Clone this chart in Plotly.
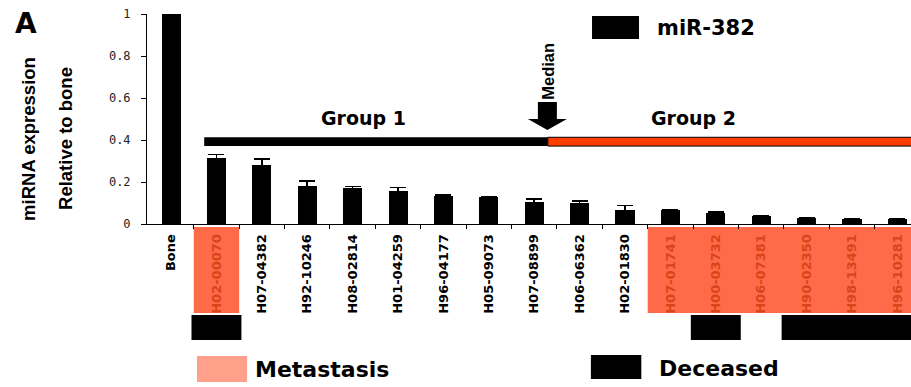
import plotly.graph_objects as go

# Samples ordered by miR-382 expression, relative to bone
samples = ["Bone", "H02-00070", "H07-04382", "H92-10246", "H08-02814", "H01-04259",
           "H96-04177", "H05-09073", "H07-08899", "H06-06362", "H02-01830",
           "H07-01741", "H00-03732", "H06-07381", "H90-02350", "H98-13491", "H96-10281"]
expression = [1.0, 0.314, 0.281, 0.181, 0.173, 0.159, 0.135, 0.127, 0.103, 0.098,
              0.068, 0.065, 0.054, 0.038, 0.030, 0.025, 0.024]
expression_err = [0, 0.018, 0.029, 0.024, 0.005, 0.014, 0.003, 0.002, 0.017, 0.012,
                  0.021, 0.003, 0.003, 0.002, 0.002, 0.001, 0.002]
metastasis = [0, 1, 0, 0, 0, 0, 0, 0, 0, 0, 0, 1, 1, 1, 1, 1, 1]
deceased = [0, 1, 0, 0, 0, 0, 0, 0, 0, 0, 0, 0, 1, 0, 1, 1, 1]
y_ticks = [0, 0.2, 0.4, 0.6, 0.8, 1]
y_tick_text = ["0", "0.2", "0.4", "0.6", "0.8", "1"]
median_pos = 8.3
group1_start = 0.73
group_level = 0.392

META_BOX = "#ff6b48"
META_TEXT = "#d9441a"
META_LEGEND = "#ffa08a"
GROUP2 = "#ff3d00"
SANS = "Liberation Sans"

idx = list(range(len(samples)))
tick_text = [f"<span style='color:{META_TEXT}'>{s}</span>" if m else s
             for s, m in zip(samples, metastasis)]


def runs(flags):
    out, start = [], None
    for i, f in enumerate(flags + [0]):
        if f and start is None:
            start = i
        elif not f and start is not None:
            out.append((start, i - 1))
            start = None
    return out


fig = go.Figure()
fig.add_trace(go.Bar(
    x=idx, y=expression, width=0.42, marker=dict(color="black", line=dict(width=0)),
    error_y=dict(type="data", array=expression_err, color="black", thickness=1.5, width=8),
    showlegend=False,
))

shapes = []
# metastasis highlight behind sample labels
for a, b in runs(metastasis):
    shapes.append(dict(type="rect", xref="x", yref="paper", x0=a - 0.5, x1=b + 0.5,
                       y0=-0.0143, y1=-0.424, fillcolor=META_BOX, line=dict(width=0),
                       layer="below"))
# deceased markers below the labels
for a, b in runs(deceased):
    shapes.append(dict(type="rect", xref="x", yref="paper", x0=a - 0.55, x1=b + 0.55,
                       y0=-0.433, y1=-0.552, fillcolor="black", line=dict(width=0)))
# group bars split at the median
shapes.append(dict(type="rect", xref="x", yref="y", x0=group1_start, x1=median_pos,
                   y0=group_level - 0.021, y1=group_level + 0.021,
                   fillcolor="black", line=dict(width=0)))
shapes.append(dict(type="rect", xref="x", yref="y", x0=median_pos, x1=len(samples),
                   y0=group_level - 0.021, y1=group_level + 0.021,
                   fillcolor=GROUP2, line=dict(color="black", width=1)))
# median arrow
shapes.append(dict(type="path", xref="x", yref="y", xsizemode="pixel", ysizemode="pixel",
                   xanchor=median_pos - 0.01, yanchor=group_level + 0.056,
                   path="M 0,0 L -19.5,11 L -9.5,11 L -9.5,28 L 9.5,28 L 9.5,11 L 19.5,11 Z",
                   fillcolor="black", line=dict(width=0)))
# legend swatches
shapes.append(dict(type="rect", xref="paper", yref="paper", x0=0.5825, x1=0.644,
                   y0=0.881, y1=0.990, fillcolor="black", line=dict(width=0)))
shapes.append(dict(type="rect", xref="paper", yref="paper", x0=0.0654, x1=0.131,
                   y0=-0.629, y1=-0.752, fillcolor=META_LEGEND, line=dict(width=0)))
shapes.append(dict(type="rect", xref="paper", yref="paper", x0=0.581, x1=0.647,
                   y0=-0.624, y1=-0.738, fillcolor="black", line=dict(width=0)))

bold = dict(family="DejaVu Sans", weight="bold", color="black")
annotations = [
    dict(text="A", xref="paper", yref="paper", x=-0.158, y=0.957, showarrow=False,
         font=dict(bold, size=28), xanchor="center", yanchor="middle"),
    dict(text="miRNA expression", xref="paper", yref="paper", x=-0.1545, y=0.405,
         textangle=-90, showarrow=False, xanchor="center", yanchor="middle",
         font=dict(family=SANS, weight="bold", size=18.5, color="black")),
    dict(text="Relative to bone", xref="paper", yref="paper", x=-0.106, y=0.405,
         textangle=-90, showarrow=False, xanchor="center", yanchor="middle",
         font=dict(family=SANS, weight="bold", size=18.5, color="black")),
    dict(text="Median", xref="x", yref="y", x=median_pos, y=0.729, textangle=-90,
         showarrow=False, xanchor="center", yanchor="middle",
         font=dict(family=SANS, weight="bold", size=16.5, color="black")),
    dict(text="Group 1", xref="x", yref="y", x=4.23, y=0.505, showarrow=False,
         xanchor="center", yanchor="middle", font=dict(bold, size=19)),
    dict(text="Group 2", xref="x", yref="y", x=11.5, y=0.505, showarrow=False,
         xanchor="center", yanchor="middle", font=dict(bold, size=19)),
    dict(text="miR-382", xref="paper", yref="paper", x=0.665, y=0.933, showarrow=False,
         xanchor="left", yanchor="middle", font=dict(bold, size=21)),
    dict(text="Metastasis", xref="paper", yref="paper", x=0.1387, y=-0.695, showarrow=False,
         xanchor="left", yanchor="middle", font=dict(bold, size=22)),
    dict(text="Deceased", xref="paper", yref="paper", x=0.6675, y=-0.686, showarrow=False,
         xanchor="left", yanchor="middle", font=dict(bold, size=22)),
]

fig.update_layout(
    width=911, height=387,
    margin=dict(l=147, r=0, t=14, b=163),
    paper_bgcolor="white", plot_bgcolor="white",
    shapes=shapes, annotations=annotations,
    bargap=0,
    xaxis=dict(
        range=[-0.53, 16.30], tickmode="array", tickvals=idx, ticktext=tick_text,
        tickangle=-90, ticks="", showgrid=False, zeroline=False,
        showline=True, linecolor="black", linewidth=1,
        tickfont=dict(family="DejaVu Sans", weight="bold", size=13, color="black"),
        ticklabelstandoff=4,
        minor=dict(tickvals=[i + 0.5 for i in idx[:-1]], ticks="outside", ticklen=4,
                   tickcolor="black", tickwidth=1, showgrid=False),
    ),
    yaxis=dict(
        range=[0, 1], tickmode="array", tickvals=y_ticks, ticktext=y_tick_text,
        ticks="outside", ticklen=5, tickcolor="black", showgrid=False, zeroline=False,
        showline=True, linecolor="black", linewidth=1, ticklabelstandoff=8,
        tickfont=dict(family="DejaVu Sans Mono", size=12, color="#222"),
    ),
)

fig.write_html("out.html")
